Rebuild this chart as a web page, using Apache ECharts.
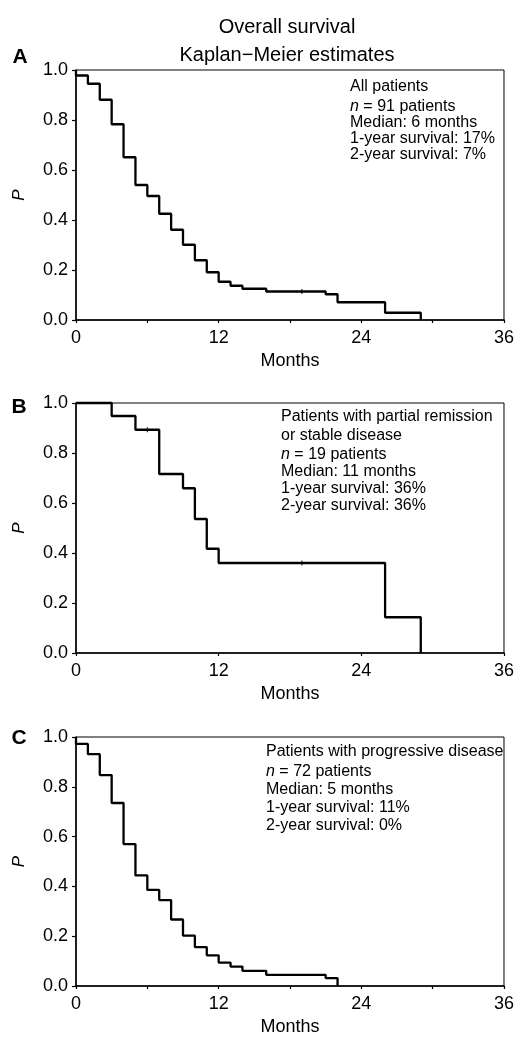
<!DOCTYPE html>
<html>
<head>
<meta charset="utf-8">
<script src="https://cdn.jsdelivr.net/npm/echarts@6/dist/echarts.min.js"></script>
<style>html,body{margin:0;padding:0;background:#fff}#c{width:517px;height:1037px}</style>
</head>
<body>
<div id="c"></div>
<script>
// ---- data ----
const timesA = [0, 0, 1, 2, 3, 4, 5, 6, 7, 8, 9, 10, 11, 12, 13, 14, 16, 21, 22, 26, 29];
const survA  = [1, 0.978, 0.945, 0.881, 0.783, 0.651, 0.540, 0.496, 0.425, 0.361, 0.301, 0.239, 0.191, 0.153, 0.137, 0.125, 0.114, 0.103, 0.071, 0.029, 0];
const censorTimesA = [19];
const censorSurvA  = [0.114];

const timesB = [0, 3, 5, 7, 9, 10, 11, 12, 26, 29];
const survB  = [1, 0.948, 0.893, 0.716, 0.659, 0.536, 0.417, 0.360, 0.143, 0];
const censorTimesB = [6, 19];
const censorSurvB  = [0.893, 0.360];

const timesC = [0, 0, 1, 2, 3, 4, 5, 6, 7, 8, 9, 10, 11, 12, 13, 14, 16, 21, 22];
const survC  = [1, 0.972, 0.931, 0.847, 0.735, 0.570, 0.444, 0.386, 0.345, 0.267, 0.202, 0.156, 0.123, 0.094, 0.078, 0.061, 0.045, 0.032, 0];

const xTicksMajor = [0, 12, 24, 36];
const yTicks = [0, 0.2, 0.4, 0.6, 0.8, 1.0];

const textA = ['All patients', '{i|n} = 91 patients', 'Median: 6 months', '1-year survival: 17%', '2-year survival: 7%'];
const textB = ['Patients with partial remission', 'or stable disease', '{i|n} = 19 patients', 'Median: 11 months', '1-year survival: 36%', '2-year survival: 36%'];
const textC = ['Patients with progressive disease', '{i|n} = 72 patients', 'Median: 5 months', '1-year survival: 11%', '2-year survival: 0%'];

// ---- layout ----
const FONT = 'Liberation Sans, Arial, Helvetica, sans-serif';
const grids = [
  {left: 76, top: 70, width: 430, height: 250},
  {left: 76, top: 403, width: 430, height: 250},
  {left: 76, top: 737, width: 430, height: 249}
];
const minorTicks = [true, false, true];

function xAxisFor(i) {
  return {
    type: 'value', gridIndex: i, min: 0, max: 36,
    interval: minorTicks[i] ? 6 : 12,
    name: 'Months', nameLocation: 'middle', nameGap: 32,
    nameTextStyle: {fontSize: 18, fontFamily: FONT, color: '#000'},
    axisLine: {show: true, onZero: false, lineStyle: {color: '#000', width: 1.5}},
    axisTick: {show: true, length: 3, lineStyle: {color: '#000', width: 1.2}},
    axisLabel: {fontSize: 18, fontFamily: FONT, color: '#000', margin: 9,
      formatter: v => xTicksMajor.indexOf(v) >= 0 ? String(v) : ''},
    splitLine: {show: false}
  };
}
function yAxisFor(i) {
  return {
    type: 'value', gridIndex: i, min: yTicks[0], max: yTicks[yTicks.length - 1], interval: 0.2,
    name: 'P', nameLocation: 'middle', nameGap: 48,
    nameTextStyle: {fontSize: 17, fontFamily: FONT, color: '#000', fontStyle: 'italic'},
    axisLine: {show: true, onZero: false, lineStyle: {color: '#000', width: 1.5}},
    axisTick: {show: true, length: 4, lineStyle: {color: '#000', width: 1.2}},
    axisLabel: {fontSize: 18, fontFamily: FONT, color: '#000', margin: 8, formatter: v => v.toFixed(1)},
    splitLine: {show: false}
  };
}
function stepSeries(i, t, s) {
  return {
    type: 'line', xAxisIndex: i, yAxisIndex: i, step: 'end', symbol: 'none',
    lineStyle: {color: '#000', width: 2.3}, animation: false, clip: false,
    data: t.map((x, k) => [x, s[k]])
  };
}
function censorSeries(i, t, s) {
  return {
    type: 'scatter', xAxisIndex: i, yAxisIndex: i, symbol: 'rect', symbolSize: [1.2, 5],
    itemStyle: {color: '#000'}, animation: false, silent: true,
    data: t.map((x, k) => [x, s[k]])
  };
}
function textLines(lines, x, ys) {
  return lines.map((txt, k) => ({
    type: 'text', x: x, y: ys[k], silent: true,
    style: {text: txt, fontSize: 16, fontFamily: FONT, fill: '#000',
      textAlign: 'left', textVerticalAlign: 'middle',
      rich: {i: {fontStyle: 'italic', fontSize: 16, fontFamily: FONT, fill: '#000'}}}
  }));
}
function label(txt, x, y, size, bold) {
  return {type: 'text', x: x, y: y, silent: true,
    style: {text: txt, fontSize: size, fontFamily: FONT, fontWeight: bold ? 'bold' : 'normal',
      fill: '#000', textAlign: 'center', textVerticalAlign: 'middle'}};
}

const chart = echarts.init(document.getElementById('c'), null, {renderer: 'canvas'});
chart.setOption({
  animation: false,
  backgroundColor: '#fff',
  grid: grids.map(g => Object.assign({show: true, borderColor: '#000', borderWidth: 1, backgroundColor: 'transparent'}, g)),
  xAxis: [0, 1, 2].map(xAxisFor),
  yAxis: [0, 1, 2].map(yAxisFor),
  series: [
    stepSeries(0, timesA, survA), censorSeries(0, censorTimesA, censorSurvA),
    stepSeries(1, timesB, survB), censorSeries(1, censorTimesB, censorSurvB),
    stepSeries(2, timesC, survC)
  ],
  graphic: [
    label('Overall survival', 287, 27, 20, false),
    label('Kaplan\u2212Meier estimates', 287, 55, 20, false),
    label('A', 20, 57, 21, true),
    label('B', 19, 407, 21, true),
    label('C', 19, 738, 21, true)
  ].concat(
    textLines(textA, 350, [87, 107, 123, 139, 155]),
    textLines(textB, 281, [417, 436, 455, 472, 489, 506]),
    textLines(textC, 266, [752, 772, 790, 808, 826])
  )
});
</script>
</body>
</html>
